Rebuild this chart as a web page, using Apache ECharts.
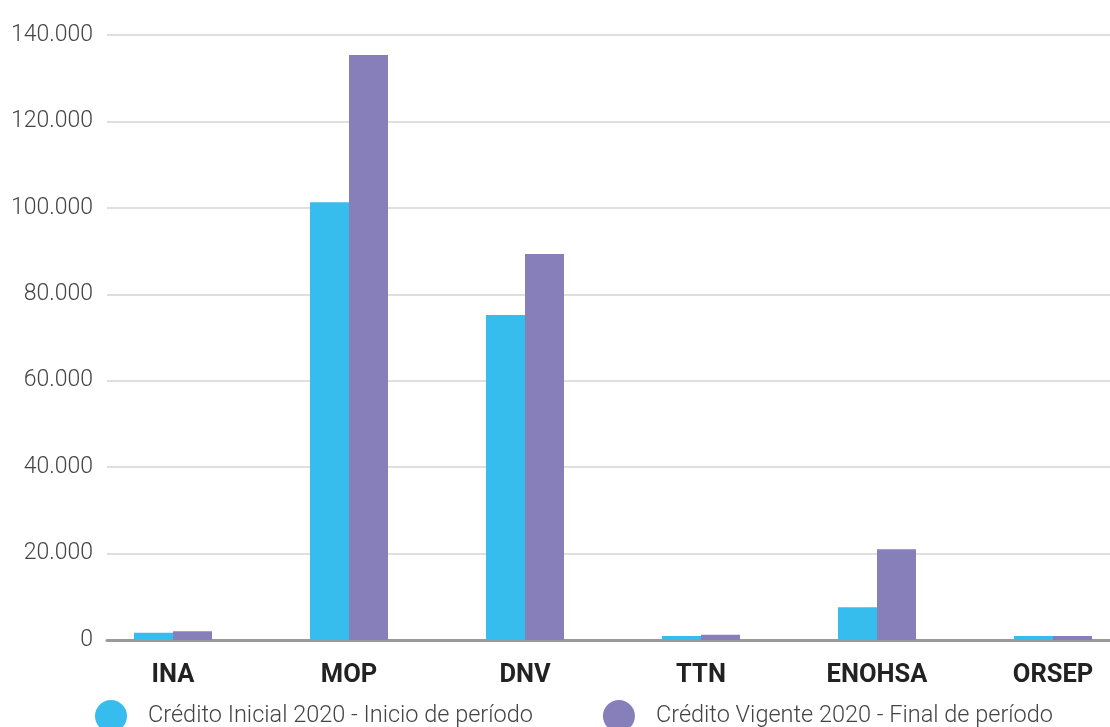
<!DOCTYPE html>
<html>
<head>
<meta charset="utf-8">
<script src="https://cdn.jsdelivr.net/npm/echarts@6/dist/echarts.min.js"></script>
<style>
html,body{margin:0;padding:0;background:#fff;overflow:hidden;width:1110px;height:727px;}
#chart{width:1141px;height:727px;}
</style>
</head>
<body>
<div id="chart"></div>
<script>
const categories = ['INA', 'MOP', 'DNV', 'TTN', 'ENOHSA', 'ORSEP'];
const seriesNames = ['Crédito Inicial 2020 - Inicio de período', 'Crédito Vigente 2020 - Final de período'];
const creditoInicial = [1700, 101300, 75200, 900, 7600, 900];
const creditoVigente = [2000, 135400, 89300, 1200, 21000, 900];
const yTicks = [0, 20000, 40000, 60000, 80000, 100000, 120000, 140000];

function fmt(v){ return String(v).replace(/\B(?=(\d{3})+(?!\d))/g, '.'); }

const chart = echarts.init(document.getElementById('chart'), null, {renderer:'canvas'});
chart.setOption({
  animation: false,
  textStyle: { fontFamily: 'Roboto' },
  legend: {
    data: seriesNames,
    left: 90, top: 695,
    icon: 'circle', itemWidth: 32, itemHeight: 32, itemGap: 70,
    textStyle: { fontFamily: 'Roboto', fontSize: 23.5, fontWeight: 300, color: '#444', padding: [0,0,0,16] }
  },
  grid: [
    { left: 107, right: 31, top: 35, bottom: 87 },
    { left: 85, right: 0, top: 35, bottom: 87 }
  ],
  xAxis: [
    { type: 'category', gridIndex: 0, data: categories,
      axisLine: { show: true, lineStyle: { color: '#9a9a9a', width: 3 } },
      axisTick: { show: false }, axisLabel: { show: false }, splitLine: { show: false } },
    { type: 'category', gridIndex: 1, data: categories,
      axisLine: { show: false }, axisTick: { show: false },
      axisLabel: { fontFamily: 'Roboto', fontSize: 25.5, fontWeight: 'bold', color: '#222', margin: 23 } }
  ],
  yAxis: [
    { type: 'value', gridIndex: 0, min: 0, max: yTicks[yTicks.length-1], interval: 20000,
      axisLine: { show: false }, axisTick: { show: false },
      axisLabel: { formatter: fmt, fontFamily: 'Roboto', fontSize: 23, fontWeight: 300, color: '#444', margin: 14 },
      splitLine: { lineStyle: { color: '#d4d4d4', width: 1.5 } } },
    { type: 'value', gridIndex: 1, min: 0, max: yTicks[yTicks.length-1], interval: 20000, show: false,
      splitLine: { show: false } }
  ],
  series: [
    { name: seriesNames[0], type: 'bar', xAxisIndex: 1, yAxisIndex: 1, data: creditoInicial,
      barWidth: 39, barGap: '0%', itemStyle: { color: '#36bced' } },
    { name: seriesNames[1], type: 'bar', xAxisIndex: 1, yAxisIndex: 1, data: creditoVigente,
      barWidth: 39, barGap: '0%', itemStyle: { color: '#877fba' } }
  ]
});
</script>
</body>
</html>
